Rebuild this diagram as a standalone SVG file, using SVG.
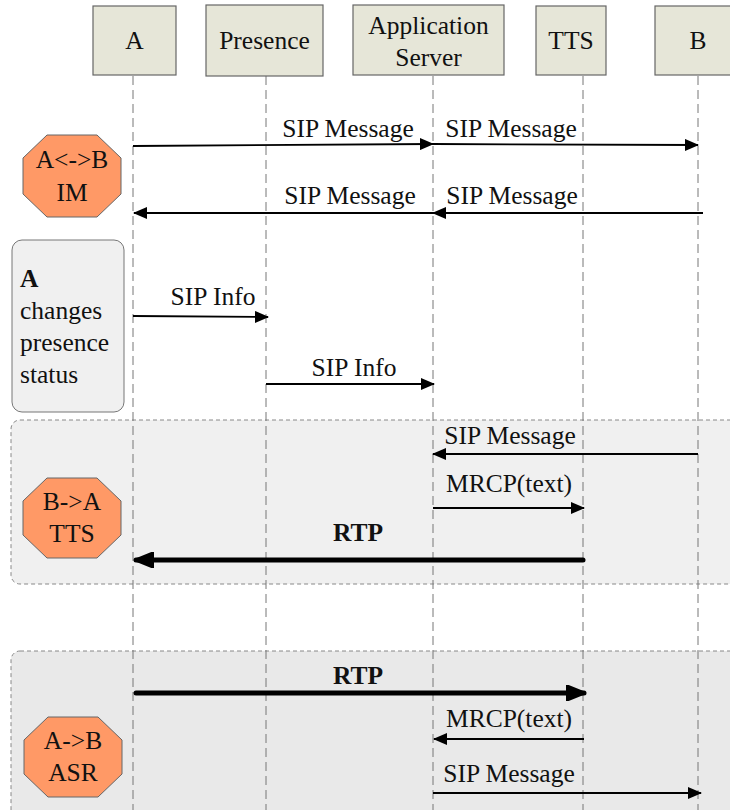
<svg xmlns="http://www.w3.org/2000/svg" width="730" height="810" viewBox="0 0 730 810" font-family="'Liberation Serif', Tinos, 'Times New Roman', Times, 'Nimbus Roman', 'DejaVu Serif', serif">
<defs>
<style>
text{font-family:'Liberation Serif',Tinos,'Times New Roman',Times,'Nimbus Roman','DejaVu Serif',serif;font-size:25.5px;fill:#111}
.box{fill:#e6e6d8;stroke:#666;stroke-width:1.2}
.life{stroke:#777;stroke-width:1;stroke-dasharray:9,5;fill:none}
.msg{stroke:#000;stroke-width:1.8;fill:none}
.rtp{stroke:#000;stroke-width:5;fill:none;stroke-linecap:round}
.oct{fill:#ff9966;stroke:#666;stroke-width:1}
.grp{stroke:#888;stroke-width:1;stroke-dasharray:4,3}
.b{font-weight:bold}
.m{text-anchor:middle}
</style>
<marker id="ah" markerWidth="14" markerHeight="12" refX="13" refY="6" orient="auto" markerUnits="userSpaceOnUse">
<path d="M0,0 L14,6 L0,12 z" fill="#000"/>
</marker>
<marker id="ahb" markerWidth="20" markerHeight="16" refX="18" refY="8" orient="auto" markerUnits="userSpaceOnUse">
<path d="M0,0 L20,8 L0,16 z" fill="#000" stroke="#000" stroke-linejoin="round" stroke-width="2"/>
</marker>
</defs>
<rect width="730" height="810" fill="#fff"/>

<g id="group-tts"><rect class="grp" x="11" y="420" width="740" height="164" rx="9" fill="#f0f0f0"/></g>
<g id="group-asr"><rect class="grp" x="11" y="651" width="740" height="190" rx="9" fill="#e9e9e9"/></g>

<g id="lifelines">
<line class="life" x1="133" y1="76" x2="133" y2="810"/>
<line class="life" x1="266" y1="76" x2="266" y2="810"/>
<line class="life" x1="433" y1="76" x2="433" y2="810"/>
<line class="life" x1="583" y1="76" x2="583" y2="810"/>
<line class="life" x1="698" y1="76" x2="698" y2="810"/>
</g>

<g id="node-A"><rect class="box" x="93" y="6" width="83" height="69"/><text class="m" x="134.5" y="49">A</text></g>
<g id="node-Presence"><rect class="box" x="206" y="5" width="117" height="71"/><text class="m" x="264.5" y="49">Presence</text></g>
<g id="node-AS"><rect class="box" x="353" y="5" width="151" height="70"/><text class="m" x="428.5" y="34">Application</text><text class="m" x="428.5" y="66">Server</text></g>
<g id="node-TTS"><rect class="box" x="536" y="6" width="70" height="69"/><text class="m" x="571" y="49">TTS</text></g>
<g id="node-B"><rect class="box" x="655" y="6" width="80" height="69"/><text class="m" x="698" y="49">B</text></g>

<g id="tag-IM"><polygon class="oct" points="47,135 97,135 121,158 121,194 97,217 47,217 23,194 23,158"/><text class="m" x="72" y="168">A&lt;-&gt;B</text><text class="m" x="72" y="201">IM</text></g>

<g id="note-presence"><rect x="12" y="240" width="112" height="172" rx="10" fill="#f0f0f0" stroke="#777" stroke-width="1"/>
<text x="20" y="287" class="b">A</text><text x="20" y="319">changes</text><text x="20" y="351">presence</text><text x="20" y="383">status</text></g>

<g id="tag-TTS"><polygon class="oct" points="47,478 97,478 121,501 121,535 97,558 47,558 23,535 23,501"/><text class="m" x="72" y="510">B-&gt;A</text><text class="m" x="72" y="542">TTS</text></g>

<g id="tag-ASR"><polygon class="oct" points="48,717 98,717 122,740 122,774 98,797 48,797 24,774 24,740"/><text class="m" x="73" y="749">A-&gt;B</text><text class="m" x="73" y="781">ASR</text></g>

<g id="connectors">
<line class="msg" x1="133" y1="146" x2="433" y2="144" marker-end="url(#ah)"/>
<line class="msg" x1="433" y1="144" x2="698" y2="145" marker-end="url(#ah)"/>
<line class="msg" x1="703" y1="213" x2="433" y2="213" marker-end="url(#ah)"/>
<line class="msg" x1="433" y1="213" x2="134" y2="213" marker-end="url(#ah)"/>
<line class="msg" x1="133" y1="316" x2="268" y2="317" marker-end="url(#ah)"/>
<line class="msg" x1="266" y1="384" x2="434" y2="384" marker-end="url(#ah)"/>
<line class="msg" x1="698" y1="454" x2="433" y2="454" marker-end="url(#ah)"/>
<line class="msg" x1="433" y1="508" x2="584" y2="508" marker-end="url(#ah)"/>
<line class="rtp" x1="583" y1="560" x2="136" y2="560" marker-end="url(#ahb)"/>
<line class="rtp" x1="136" y1="693" x2="584" y2="693" marker-end="url(#ahb)"/>
<line class="msg" x1="584" y1="739" x2="434" y2="739" marker-end="url(#ah)"/>
<line class="msg" x1="433" y1="793" x2="701" y2="793" marker-end="url(#ah)"/>
</g>

<g id="labels">
<text class="m" x="348" y="137">SIP Message</text>
<text class="m" x="511" y="137">SIP Message</text>
<text class="m" x="350" y="204">SIP Message</text>
<text class="m" x="512" y="204">SIP Message</text>
<text class="m" x="213" y="305">SIP Info</text>
<text class="m" x="354" y="376">SIP Info</text>
<text class="m" x="510" y="444">SIP Message</text>
<text class="m" x="509" y="492">MRCP(text)</text>
<text class="m b" x="358" y="541">RTP</text>
<text class="m b" x="358" y="684">RTP</text>
<text class="m" x="509" y="727">MRCP(text)</text>
<text class="m" x="509" y="782">SIP Message</text>
</g>
</svg>
